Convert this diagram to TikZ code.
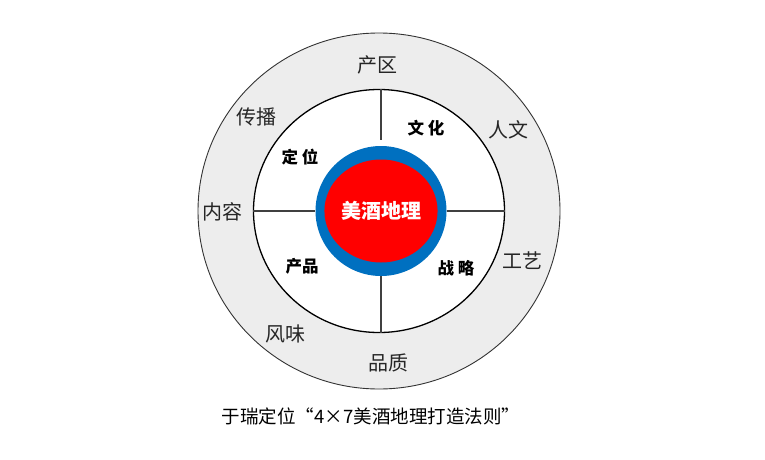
\documentclass[tikz,border=0pt]{standalone}
\usepackage{fontspec}
\usetikzlibrary{shapes.geometric}
\newfontfamily\cjk{Noto Sans CJK SC}
\definecolor{ringgray}{RGB}{237,237,237}
\definecolor{coreblue}{RGB}{0,112,192}
\definecolor{corered}{RGB}{255,0,0}
\tikzset{
  ring/.style      = {ellipse, inner sep=0pt},
  outerring/.style = {ring, draw=black!80, fill=ringgray, line width=0.9pt,
                      minimum width=362pt, minimum height=356pt},
  innerring/.style = {ring, draw=black, fill=white, line width=1.3pt,
                      minimum width=251pt, minimum height=243pt},
  bluering/.style  = {ring, fill=coreblue, minimum width=131pt, minimum height=130pt},
  redcore/.style   = {ring, fill=corered, minimum width=103pt, minimum height=103pt,
                      text=white, font=\cjk\bfseries\fontsize{20}{22}\selectfont},
  % outer ring words: plain; inner quarter words: bold, spaced
  word/.style      = {inner sep=1pt, text=black!85, font=\cjk\fontsize{20}{22}\selectfont},
  keyword/.style   = {word, text=black, font=\cjk\bfseries\fontsize{16.5}{18}\selectfont},
  caption/.style   = {word, text=black, font=\cjk\fontsize{18.5}{20}\selectfont},
  spoke/.style     = {draw=black!75, line width=1.1pt},
}
\begin{document}
\begin{tikzpicture}[x=1pt, y=-1pt]
  \useasboundingbox (0,0) rectangle (765,460);

  \node[outerring] (outer) at (379,211) {};
  \node[innerring] (inner) at (379,211) {};
  \node[bluering]  (blue)  at (381,211) {};
  \node[redcore]   (core)  at (381,211) {美酒地理};

  \draw[spoke] (blue.north |- inner.north) -- ([yshift=6pt]blue.north);
  \draw[spoke] (blue.south) -- (blue.south |- inner.south);
  \draw[spoke] (inner.west) -- (blue.west);
  \draw[spoke] (blue.east) -- (inner.east);

  \node[keyword] (wenhua)  at (426,128) {文\hspace{4pt}化};
  \node[keyword] (dingwei) at (300,157) {定\hspace{4pt}位};
  \node[keyword] (chanpin) at (302,266) {产品};
  \node[keyword] (zhanlue) at (456,268) {战\hspace{4pt}略};

  \node[word] (chanqu)   at (377,65)  {产区};
  \node[word] (renwen)   at (508,130) {人文};
  \node[word] (gongyi)   at (522,261) {工艺};
  \node[word] (pinzhi)   at (388,363) {品质};
  \node[word] (fengwei)  at (285,334) {风味};
  \node[word] (neirong)  at (222,212) {内容};
  \node[word] (chuanbo)  at (256,117) {传播};

  \node[caption] (title) at (371,416) {于瑞定位“4×7美酒地理打造法则”};
\end{tikzpicture}
\end{document}
